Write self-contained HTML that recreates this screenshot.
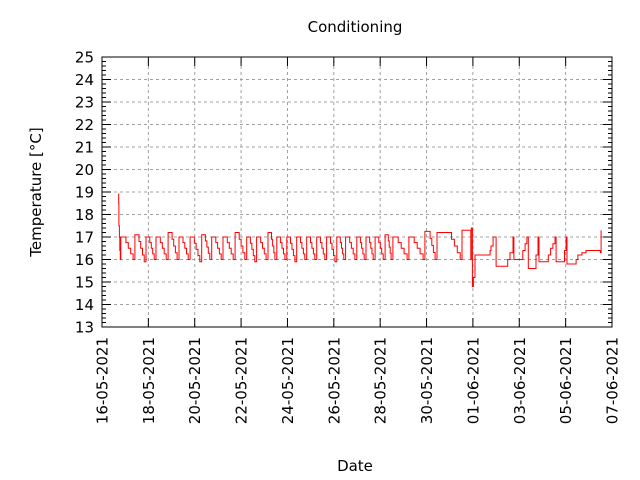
<!DOCTYPE html>
<html><head><meta charset="utf-8"><style>
body{margin:0;background:#fff;}
svg{display:block;font-family:"DejaVu Sans","Liberation Sans",sans-serif;}
</style></head><body>
<svg id="chart" width="640" height="480">
<text x="355" y="32" font-size="15" text-anchor="middle">Conditioning</text>
<text x="0" y="0" font-size="15" text-anchor="middle" transform="translate(41,192) rotate(-90)">Temperature [°C]</text>
<text x="355" y="471" font-size="15" text-anchor="middle">Date</text>
<g id="grid"></g><g id="axes"></g><g id="series"></g>
</svg>
<script>
const yTicks=[13,14,15,16,17,18,19,20,21,22,23,24,25];
const xTickDays=[0,2,4,6,8,10,12,14,16,18,20,22];
const xTickLabels=["16-05-2021","18-05-2021","20-05-2021","22-05-2021","24-05-2021","26-05-2021","28-05-2021","30-05-2021","01-06-2021","03-06-2021","05-06-2021","07-06-2021"];
const preludeDays=[0.69,0.72,0.73,0.75,0.77,0.79];
const preludeTemps=[18.9,18.5,17.5,17.0,16.4,16.0];
const cycleStarts=[0.81,1.42,1.90,2.33,2.85,3.32,3.80,4.30,4.73,5.22,5.74,6.24,6.67,7.16,7.54,7.97,8.40,8.83,9.26,9.69,10.13,10.51,10.99,11.39,11.78,12.21,12.55,13.24,13.93,14.45,15.53];
const cyclePeaks=[17,17.1,17,17,17.2,17,17,17.1,17,17,17.2,17,17,17.2,17,17,17,17,17,17,17,17,17,17,17,17.1,17,17,17.25,17.2,17.3];
const cycleMins=[16,15.9,16,16,16,16,15.9,16,16,16,16,15.9,16,16,16,15.9,16,16,16,15.9,16,16,16,16,16,16,16,16,16,16,16];
const cycleHolds=[0.12,0.1,0.1,0.1,0.1,0.1,0.1,0.1,0.1,0.1,0.1,0.1,0.1,0.1,0.1,0.1,0.1,0.1,0.1,0.1,0.1,0.1,0.1,0.1,0.1,0.1,0.1,0.1,0.15,0.5,0.38];
const tailDays=[15.93,15.98,16.02,16.09,16.70,16.74,16.78,16.87,17.00,17.39,17.50,17.60,17.73,17.77,18.03,18.15,18.25,18.33,18.39,18.64,18.72,18.81,18.85,19.11,19.25,19.35,19.45,19.54,19.59,19.84,19.95,20.02,20.06,20.36,20.45,20.53,20.70,20.88,21.48,21.50,21.53];
const tailTemps=[17.4,14.8,15.2,16.2,16.2,16.4,16.6,17.0,15.7,15.7,16.0,16.3,17.0,16.0,16.0,16.4,16.7,17.0,15.6,15.6,16.2,17.0,15.9,15.9,16.2,16.5,16.7,17.0,15.9,15.9,16.4,17.0,15.8,15.8,16.0,16.2,16.3,16.4,16.4,16.3,17.3];
const X0=102,X1=612,Y0=327,Y1=57,DAYS=22,YMIN=13,YMAX=25;
const xs=d=>X0+(X1-X0)*d/DAYS;
const ys=v=>Y0-(Y0-Y1)*(v-YMIN)/(YMAX-YMIN);
const NS="http://www.w3.org/2000/svg";
function mk(tag,attrs,parent){const e=document.createElementNS(NS,tag);for(const k in attrs)e.setAttribute(k,attrs[k]);parent.appendChild(e);return e;}
const grid=document.getElementById('grid'),axes=document.getElementById('axes'),series=document.getElementById('series');
yTicks.forEach((t,i)=>{
  const y=ys(t);
  if(i>0&&i<yTicks.length-1){const g=mk('line',{x1:X0,x2:X1,y1:y,y2:y,stroke:'#a0a0a0','stroke-dasharray':'3,3'},grid);
  
  }
  mk('line',{x1:X0,x2:X0+9,y1:y,y2:y,stroke:'#000'},axes);
  mk('line',{x1:X1,x2:X1-9,y1:y,y2:y,stroke:'#000'},axes);
  if(i<yTicks.length-1){for(let k=1;k<5;k++){const yy=ys(t+k*0.2);mk('line',{x1:X0,x2:X0+4,y1:yy,y2:yy,stroke:'#000'},axes);mk('line',{x1:X1,x2:X1-4,y1:yy,y2:yy,stroke:'#000'},axes);}}
  const tx=mk('text',{x:X0-8,y:y+5.5,'font-size':15,'text-anchor':'end'},axes);
  tx.textContent=t;
  
  
});
xTickDays.forEach((d,i)=>{
  const x=xs(d);
  if(i>0&&i<xTickDays.length-1){const g=mk('line',{x1:x,x2:x,y1:Y0,y2:Y1,stroke:'#a0a0a0','stroke-dasharray':'3,3'},grid);
  
  }
  mk('line',{x1:x,x2:x,y1:Y0,y2:Y0-9,stroke:'#000'},axes);
  mk('line',{x1:x,x2:x,y1:Y1,y2:Y1+9,stroke:'#000'},axes);
  const tx=mk('text',{x:0,y:0,'font-size':15,'text-anchor':'end',transform:`translate(${x+5.5},${Y0+10}) rotate(-90)`},axes);
  tx.textContent=xTickLabels[i];
  
  
});
const frame=mk('rect',{x:X0,y:Y1,width:X1-X0,height:Y0-Y1,fill:'none',stroke:'#000'},axes);


// build points
const pts=[];
preludeDays.forEach((d,i)=>pts.push([d,preludeTemps[i]]));
cycleStarts.forEach((s,i)=>{
  const end=i<cycleStarts.length-1?cycleStarts[i+1]:tailDays[0];
  const pk=cyclePeaks[i],mn=cycleMins[i],h=cycleHolds[i];
  pts.push([s,pk]);pts.push([s+h,pk]);
  const descEnd=Math.max(s+h,end-0.08);
  const steps=4;
  for(let k=1;k<=steps;k++){pts.push([s+h+(descEnd-s-h)*k/steps,pk+(mn-pk)*k/steps]);}
  pts.push([end,mn]);
});
tailDays.forEach((d,i)=>pts.push([d,tailTemps[i]]));
let dstr='';
pts.forEach((p,i)=>{const x=xs(p[0]).toFixed(1),y=ys(p[1]).toFixed(1);
  if(i===0)dstr+=`M${x},${y}`;else{dstr+=`H${x}V${y}`;}});
const path=mk('path',{d:dstr,fill:'none',stroke:'#ff0000','stroke-width':1},series);


</script>
</body></html>
